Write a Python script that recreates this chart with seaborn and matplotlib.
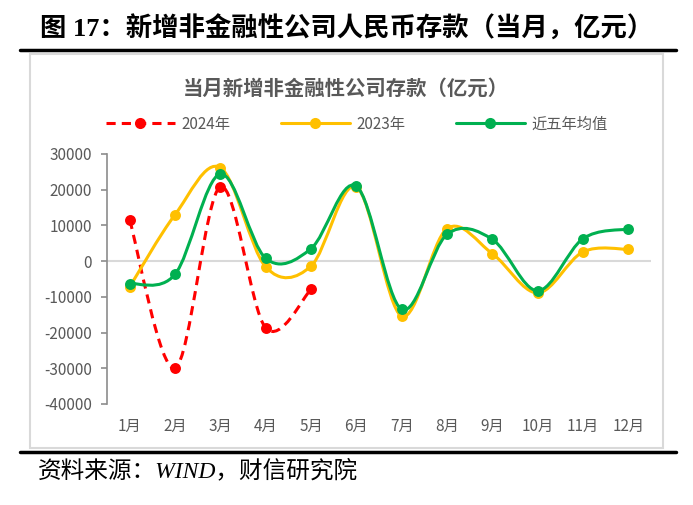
import numpy as np
import pandas as pd
import matplotlib
matplotlib.use('Agg')
import matplotlib.pyplot as plt
import seaborn as sns
from matplotlib.path import Path
from matplotlib.patches import PathPatch, Rectangle
from matplotlib.lines import Line2D

months = ['1月', '2月', '3月', '4月', '5月', '6月', '7月', '8月', '9月', '10月', '11月', '12月']
v2024 = [11500, -30000, 20800, -18700, -7900]
v2023 = [-7200, 13000, 26200, -1600, -1400, 20800, -15400, 9100, 2100, -8900, 2600, 3300]
v_avg = [-6300, -3700, 24400, 800, 3500, 21000, -13500, 7500, 6100, -8300, 6300, 9000]
yticks = [30000, 20000, 10000, 0, -10000, -20000, -30000, -40000]

series = [
    ('2024年', v2024, '#FF0000', (0, (3, 2))),
    ('2023年', v2023, '#FFC000', '-'),
    ('近五年均值', v_avg, '#00B050', '-'),
]

rows = []
for name, vals, _, _ in series:
    for i, v in enumerate(vals):
        rows.append({'series': name, 'idx': i, 'value': v})
df = pd.DataFrame(rows)

sns.set_theme(style='white')
plt.rcParams['font.family'] = ['Noto Sans CJK SC', 'DejaVu Sans']
plt.rcParams['axes.unicode_minus'] = False

GRAY = '#595959'


def smooth_path(xs, ys):
    # Excel-like smoothed line: Catmull-Rom converted to cubic Bezier
    pts = np.column_stack([xs, ys]).astype(float)
    n = len(pts)
    verts = [pts[0]]
    codes = [Path.MOVETO]
    for i in range(n - 1):
        p0 = pts[i - 1] if i > 0 else pts[i]
        p1, p2 = pts[i], pts[i + 1]
        p3 = pts[i + 2] if i + 2 < n else pts[i + 1]
        verts += [p1 + (p2 - p0) / 6, p2 - (p3 - p1) / 6, p2]
        codes += [Path.CURVE4] * 3
    return Path(verts, codes)


W, H = 693, 505
fig = plt.figure(figsize=(W / 100, H / 100), dpi=100)
ax = fig.add_axes([107 / W, 1 - 404 / H, 544 / W, 250 / H])

ax.axhline(0, color='#D9D9D9', lw=1.5, zorder=1)

for k, (name, vals, color, ls) in enumerate(series):
    sub = df[df['series'] == name]
    patch = PathPatch(smooth_path(sub['idx'], sub['value']), facecolor='none',
                      edgecolor=color, lw=2.2, linestyle=ls, zorder=2 + k)
    ax.add_patch(patch)
    sns.scatterplot(data=sub, x='idx', y='value', color=color, s=62,
                    linewidth=0, legend=False, ax=ax, zorder=2.5 + k)

ax.set_xlim(-0.5, 11.5)
ax.set_ylim(-40000, 30000)
ax.set_xticks(range(12), labels=months)
ax.set_yticks(yticks, labels=[str(t) for t in yticks])
ax.set_xlabel('')
ax.set_ylabel('')
for s in ['top', 'right', 'bottom']:
    ax.spines[s].set_visible(False)
ax.spines['left'].set_color('#8C8C8C')
ax.spines['left'].set_linewidth(1.2)
ax.tick_params(axis='y', left=True, length=4, width=1.2, color='#8C8C8C',
               pad=7, labelsize=11, labelcolor=GRAY)
ax.tick_params(axis='x', bottom=False, length=0, pad=10, labelsize=11, labelcolor=GRAY)
ax.grid(False)

# legend
handles = [Line2D([0], [0], color=c, lw=2.2, linestyle=ls, marker='o',
                  markersize=8, markeredgewidth=0) for _, _, c, ls in series]
fig.legend(handles, [s[0] for s in series], loc='center left',
           bbox_to_anchor=(106 / W, 1 - 124 / H), ncol=3, frameon=False,
           fontsize=11, handlelength=4.5, handletextpad=0.45, columnspacing=3.3,
           borderpad=0, borderaxespad=0, labelcolor=GRAY)

# chart title
fig.text(346 / W, 1 - 88 / H, '当月新增非金融性公司存款（亿元）', ha='center', va='center',
         fontsize=14.7, fontweight='bold', color=GRAY)

# outer frame and report decorations
fig.add_artist(Rectangle((30 / W, 1 - 448 / H), 633 / W, 394 / H, transform=fig.transFigure,
                         fill=False, edgecolor='#D9D9D9', lw=1.5))
fig.add_artist(Line2D([20 / W, 676 / W], [1 - 50 / H] * 2, color='black', lw=2.5))
fig.add_artist(Line2D([20 / W, 676 / W], [1 - 452 / H] * 2, color='black', lw=2.5))

fig.text(40 / W, 1 - 29 / H, '图 17：新增非金融性公司人民币存款（当月，亿元）',
         ha='left', va='center', fontsize=19, fontweight='bold', color='black',
         family=['Liberation Serif', 'Noto Sans CJK SC'])
fig.text(38 / W, 1 - 471 / H, '资料来源：WIND，财信研究院', ha='left', va='center',
         fontsize=17, style='italic', color='black',
         family=['Liberation Serif', 'Noto Sans CJK SC'])

fig.savefig('out.png', dpi=100)
